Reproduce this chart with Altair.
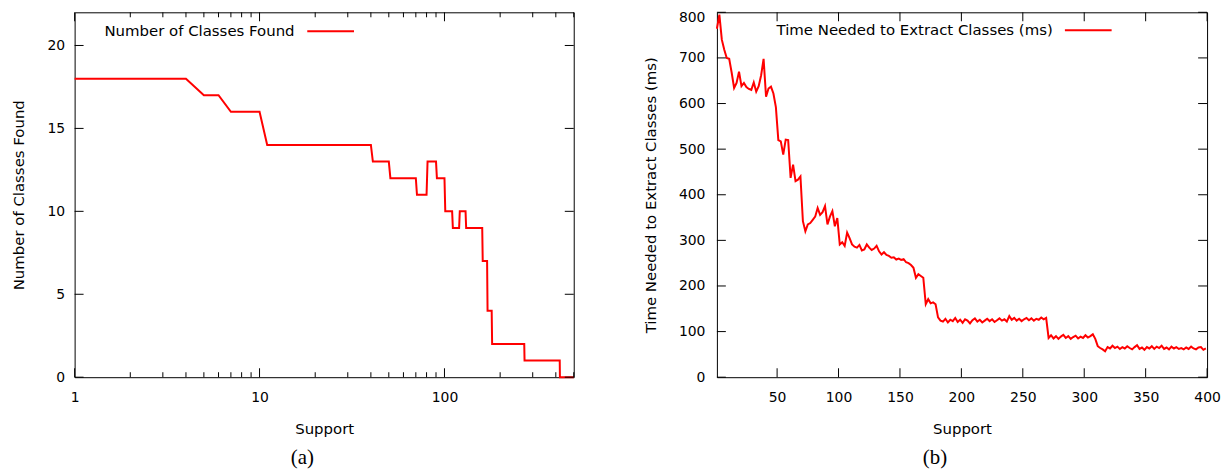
import altair as alt
import pandas as pd

# ---------------- data: panel (a) ----------------
support_a = [1, 4, 5, 6, 7, 10, 11, 40, 41, 50, 51, 70, 71, 80, 81, 90, 91,
             100, 101, 110, 111, 120, 121, 130, 131, 160, 161, 170, 171, 180,
             181, 270, 271, 420, 421, 500]
classes_a = [18, 18, 17, 17, 16, 16, 14, 14, 13, 13, 12, 12, 11, 11, 13, 13, 12,
             12, 10, 10, 9, 9, 10, 10, 9, 9, 7, 7, 4, 4,
             2, 2, 1, 1, 0, 0]

# ---------------- data: panel (b) ----------------
support_b = list(range(1, 400, 2))
time_b = [
    764, 795, 740, 718, 700, 698, 668, 634, 645, 670,   # 1-19
    638, 645, 636, 632, 630, 646, 626, 638, 662, 698,   # 21-39
    615, 633, 637, 622, 592, 520, 517, 488, 521, 520,   # 41-59
    437, 466, 430, 433, 440, 342, 320, 335, 338, 345,   # 61-79
    352, 371, 356, 362, 375, 335, 352, 364, 331, 349,   # 81-99
    291, 296, 288, 317, 305, 291, 286, 284, 290, 278,   # 101-119
    280, 291, 284, 279, 282, 288, 276, 269, 274, 268,   # 121-139
    266, 262, 263, 258, 260, 257, 259, 252, 250, 246,   # 141-159
    240, 218, 226, 222, 218, 160, 171, 162, 164, 160,   # 161-179
    131, 124, 122, 128, 120, 126, 123, 130, 121, 126,   # 181-199
    119, 127, 124, 118, 125, 129, 122, 126, 120, 124,   # 201-219
    128, 123, 127, 121, 125, 129, 124, 127, 122, 134,   # 221-239
    126, 130, 124, 128, 123, 127, 130, 125, 129, 124,   # 241-259
    128, 126, 131, 127, 130, 86, 92, 85, 90, 84,        # 261-279
    89, 93, 86, 90, 84, 88, 91, 85, 89, 86,             # 281-299
    92, 87, 90, 94, 84, 68, 64, 61, 57, 66,             # 301-319
    63, 69, 64, 67, 62, 66, 63, 68, 64, 61,             # 321-339
    66, 70, 62, 65, 60, 66, 63, 68, 62, 67,             # 341-359
    64, 69, 62, 65, 61, 67, 63, 66, 62, 64,             # 361-379
    61, 65, 62, 67, 63, 61, 65, 66, 60, 63,             # 381-399
]

# tick positions
ticks_a_y = [0, 5, 10, 15, 20]
ticks_a_x_major = [1, 10, 100]
ticks_a_x_minor = [2, 3, 4, 5, 6, 7, 8, 9, 20, 30, 40, 50, 60, 70, 80, 90,
                   200, 300, 400, 500]
ticks_b_y = [0, 100, 200, 300, 400, 500, 600, 700, 800]
ticks_b_x = [50, 100, 150, 200, 250, 300, 350, 400]

name_a = "Number of Classes Found"
name_b = "Time Needed to Extract Classes (ms)"

FONT = "DejaVu Sans"
RED = "#ff0000"
WA, WB, H = 502, 493, 367
TMAJ, TMIN = 9, 5
SAMPLE = 47      # legend sample line length
GAP = 11         # gap between legend text and sample


def legend(title, lx, ly):
    return alt.Legend(title=title, titleOrient="left", titlePadding=GAP,
                      titleFont=FONT, titleFontSize=15, titleFontWeight="normal",
                      titleColor="black", titleBaseline="middle", titleLimit=600,
                      orient="none", legendX=lx, legendY=ly,
                      symbolType="stroke", symbolSize=SAMPLE * SAMPLE, symbolStrokeWidth=2,
                      labelExpr="''", labelFontSize=1, labelOffset=0,
                      padding=0, clipHeight=16)


df_a = pd.DataFrame({"support": support_a, "classes": classes_a, "series": name_a})
df_b = pd.DataFrame({"support": support_b, "time": time_b, "series": name_b})

# ---------------- panel (a) ----------------
xa = alt.X("support:Q", title="Support",
           scale=alt.Scale(type="log", domain=[1, 500], nice=False),
           axis=alt.Axis(values=ticks_a_x_major, format="d", labelPadding=13,
                         titlePadding=18, labelFlush=False, labelOverlap=False))
ya = alt.Y("classes:Q", title=name_a,
           scale=alt.Scale(domain=[0, 22], nice=False, zero=False),
           axis=alt.Axis(values=ticks_a_y, labelPadding=10, titlePadding=21))

line_a = alt.Chart(df_a).mark_line(strokeWidth=2, clip=False).encode(
    x=xa, y=ya,
    color=alt.Color("series:N", scale=alt.Scale(range=[RED]),
                    legend=legend(name_a, 30, 11)))

tya = pd.DataFrame({"classes": ticks_a_y})
txa = pd.DataFrame({"support": ticks_a_x_major})
txm = pd.DataFrame({"support": ticks_a_x_minor})

a_layers = [
    line_a,
    alt.Chart(tya).mark_rule(color="black").encode(y=ya, x=alt.value(0), x2=alt.value(TMAJ)),
    alt.Chart(tya).mark_rule(color="black").encode(y=ya, x=alt.value(WA - TMAJ), x2=alt.value(WA)),
    alt.Chart(txa).mark_rule(color="black").encode(x=xa, y=alt.value(H - TMAJ), y2=alt.value(H)),
    alt.Chart(txa).mark_rule(color="black").encode(x=xa, y=alt.value(0), y2=alt.value(TMAJ)),
    alt.Chart(txm).mark_rule(color="black").encode(x=xa, y=alt.value(H - TMIN), y2=alt.value(H)),
    alt.Chart(txm).mark_rule(color="black").encode(x=xa, y=alt.value(0), y2=alt.value(TMIN)),
]
panel_a = alt.layer(*a_layers).properties(
    width=WA, height=H,
    title=alt.TitleParams("(a)", orient="bottom", anchor="middle", frame="bounds",
                          offset=10, dx=8, font="Liberation Serif", fontSize=21,
                          fontWeight="normal", color="black"))

# ---------------- panel (b) ----------------
top_cond = "datum.value >= 800"
xb = alt.X("support:Q", title="Support",
           scale=alt.Scale(domain=[1, 400], nice=False, zero=False),
           axis=alt.Axis(values=ticks_b_x, labelPadding=13, titlePadding=18,
                         labelFlush=False, labelOverlap=False))
yb = alt.Y("time:Q", title=name_b,
           scale=alt.Scale(domain=[0, 800], nice=False, zero=False),
           axis=alt.Axis(values=ticks_b_y, labelPadding=12, titlePadding=20,
                         labelFlush=False,
                         labelBaseline={"condition": {"test": top_cond, "value": "top"},
                                        "value": "middle"},
                         labelOffset={"condition": {"test": top_cond, "value": -2},
                                      "value": 0}))

line_b = alt.Chart(df_b).mark_line(strokeWidth=2, clip=False).encode(
    x=xb, y=yb,
    color=alt.Color("series:N", scale=alt.Scale(range=[RED]),
                    legend=legend(name_b, 60, 10)))

tyb = pd.DataFrame({"time": ticks_b_y})
txb = pd.DataFrame({"support": ticks_b_x})

b_layers = [
    line_b,
    alt.Chart(tyb).mark_rule(color="black").encode(y=yb, x=alt.value(0), x2=alt.value(TMAJ)),
    alt.Chart(tyb).mark_rule(color="black").encode(y=yb, x=alt.value(WB - TMAJ), x2=alt.value(WB)),
    alt.Chart(txb).mark_rule(color="black").encode(x=xb, y=alt.value(H - TMAJ), y2=alt.value(H)),
    alt.Chart(txb).mark_rule(color="black").encode(x=xb, y=alt.value(0), y2=alt.value(TMAJ)),
]
panel_b = alt.layer(*b_layers).properties(
    width=WB, height=H,
    title=alt.TitleParams("(b)", orient="bottom", anchor="middle", frame="bounds",
                          offset=10, dx=3, font="Liberation Serif", fontSize=21,
                          fontWeight="normal", color="black"))

chart = alt.hconcat(panel_a, panel_b, spacing=64).resolve_scale(
    color="independent").resolve_legend(color="independent").properties(
    padding={"left": 2, "top": 0, "right": 0, "bottom": 0}
).configure_view(stroke="black", strokeWidth=1).configure_axis(
    labelFont=FONT, titleFont=FONT, labelFontSize=14, titleFontSize=15,
    titleFontWeight="normal", labelColor="black", titleColor="black",
    grid=False, ticks=False, domain=False
)

chart.save("out.html", embed_options={"renderer": "svg", "actions": False})
